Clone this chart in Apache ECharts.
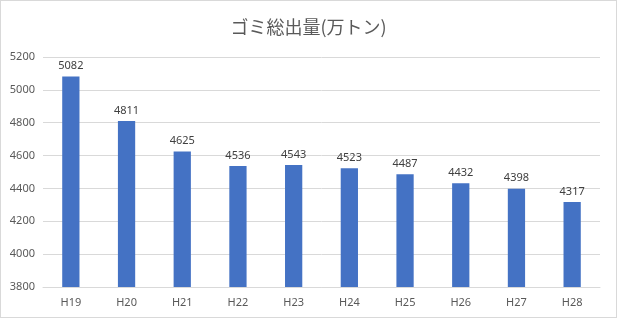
<!DOCTYPE html>
<html><head><meta charset="utf-8">
<script src="https://cdn.jsdelivr.net/npm/echarts@6/dist/echarts.min.js"></script>
<style>html,body{margin:0;padding:0;background:#fff}#c{width:617px;height:318px;box-sizing:border-box;border:1px solid #d9d9d9}</style>
</head><body><div id="c"></div>
<script>
const categories = ["H19","H20","H21","H22","H23","H24","H25","H26","H27","H28"];
const values = [5082,4811,4625,4536,4543,4523,4487,4432,4398,4317];
const titleText = "ゴミ総出量(万トン)";
const chart = echarts.init(document.getElementById('c'));
chart.setOption({
  animation:false,
  title:{text:titleText,left:'center',top:12,textStyle:{fontFamily:'Noto Sans CJK JP',fontSize:18,fontWeight:'normal',color:'#595959'}},
  grid:{left:42,right:16,top:56,bottom:30},
  xAxis:{type:'category',data:categories,axisTick:{show:false},axisLine:{lineStyle:{color:'#d9d9d9'}},
    axisLabel:{color:'#595959',fontSize:11,fontFamily:'Noto Sans',margin:10}},
  yAxis:{type:'value',min:3800,max:5200,interval:200,axisLine:{show:false},axisTick:{show:false},
    splitLine:{lineStyle:{color:'#d9d9d9'}},axisLabel:{color:'#595959',fontSize:11,fontFamily:'Noto Sans',margin:8,formatter:v=>String(v)}},
  series:[{type:'bar',data:values,barWidth:'31%',itemStyle:{color:'#4472C4'},
    label:{show:true,position:'top',color:'#404040',fontSize:11,fontFamily:'Noto Sans',distance:5}}]
});
</script></body></html>
